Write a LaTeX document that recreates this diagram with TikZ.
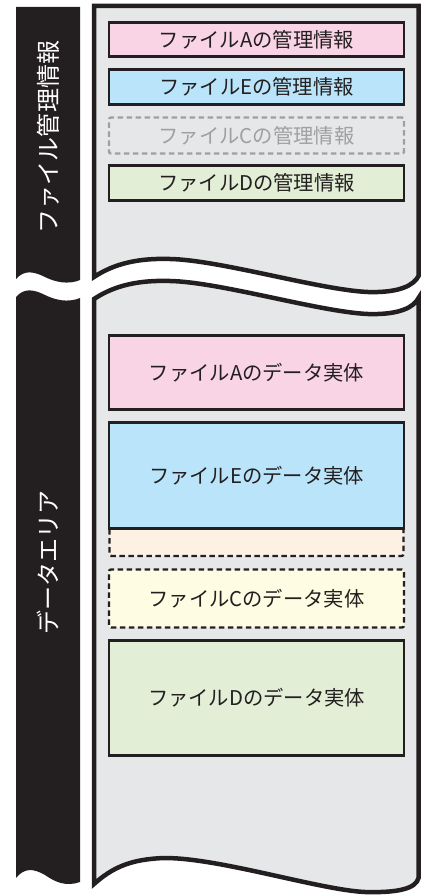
\documentclass[tikz,border=0pt]{standalone}
\usepackage{fontspec}
\setmainfont{Noto Sans CJK JP}
\definecolor{ink}{HTML}{231F20}
\definecolor{panel}{HTML}{E6E7E8}
\definecolor{pinkf}{HTML}{F9D4E5}
\definecolor{bluef}{HTML}{B9E4F9}
\definecolor{greenf}{HTML}{E2EED6}
\definecolor{orangef}{HTML}{FDF1E4}
\definecolor{yellowf}{HTML}{FEFCE3}
\definecolor{ghost}{HTML}{9FA0A2}
\tikzset{
  panelshape/.style={fill=panel, draw=ink, line width=4.5pt},
  barshape/.style={fill=ink, draw=none},
  solidbox/.style={draw=ink, line width=2.6pt, minimum width=295pt, inner sep=0pt,
    font=\fontsize{20.3}{23}\selectfont, text=ink},
  dashbox/.style={draw=ink, line width=2.4pt, dash pattern=on 5.5pt off 3.5pt,
    rounded corners=2pt, minimum width=295pt, inner sep=0pt,
    font=\fontsize{20.3}{23}\selectfont, text=ink},
  ghostbox/.style={dashbox, draw=ghost, text=ghost, fill=panel},
  sidelabel/.style={rotate=90, text=white, font=\fontsize{24}{28}\selectfont, inner sep=0pt}
}
\begin{document}
\begin{tikzpicture}[x=1pt,y=-1pt]
\useasboundingbox (0,0) rectangle (430,896);
% black side bars
\path[barshape] (16,7) -- (80,7) -- (80,280)
  .. controls (68,285) and (55,282) .. (45,277)
  .. controls (33,271) and (24,270) .. (16,279) -- cycle;
\path[barshape] (16,297) .. controls (24,288) and (33,289) .. (45,295)
  .. controls (55,300) and (68,303) .. (80,298) -- (80,882)
  .. controls (66,887) and (55,882) .. (45,875)
  .. controls (33,868) and (24,868) .. (16,878) -- cycle;
% panels
\path[panelshape] (94,6) -- (418.5,6) -- (418.5,276)
  .. controls (414,285) and (400,293) .. (368,292)
  .. controls (320,290) and (220,260) .. (170,259)
  .. controls (140,258) and (115,263) .. (94,277) -- cycle;
\path[panelshape] (94,299) .. controls (115,285) and (140,280) .. (170,281)
  .. controls (220,282) and (320,312) .. (368,314)
  .. controls (400,315) and (414,307) .. (418.5,298) -- (418.5,878)
  .. controls (416,888) and (400,893) .. (365,892)
  .. controls (320,890) and (220,858) .. (165,858)
  .. controls (130,859) and (112,868) .. (94,884) -- cycle;
% side labels
\node[sidelabel] (lblmgmt) at (48,137) {ファイル管理情報};
\node[sidelabel] (lbldata) at (48,562) {データエリア};
% management boxes
\node[solidbox, fill=pinkf, minimum height=34pt] (mA) at (256.5,39.5) {ファイルAの管理情報};
\node[solidbox, fill=bluef, minimum height=35pt] (mE) at (256.5,87) {ファイルEの管理情報};
\node[ghostbox, minimum height=36pt] (mC) at (256.5,135.5) {ファイルCの管理情報};
\node[solidbox, fill=greenf, minimum height=35pt] (mD) at (256.5,183) {ファイルDの管理情報};
% data boxes
\fill[orangef] (109.5,528) rectangle (403.5,556);
\draw[ink, line width=2.4pt, dash pattern=on 5.5pt off 3.5pt, rounded corners=2pt]
  (109.5,529) -- (109.5,556) -- (403.5,556) -- (403.5,529);
\node[solidbox, fill=pinkf, minimum height=74pt] (dA) at (256.5,372.5) {ファイルAのデータ実体};
\node[solidbox, fill=bluef, minimum height=106pt] (dE) at (256.5,475.5) {ファイルEのデータ実体};
\node[dashbox, fill=yellowf, minimum height=58pt] (dC) at (256.5,598.5) {ファイルCのデータ実体};
\node[solidbox, fill=greenf, minimum height=115pt] (dD) at (256.5,698) {ファイルDのデータ実体};
\end{tikzpicture}
\end{document}
